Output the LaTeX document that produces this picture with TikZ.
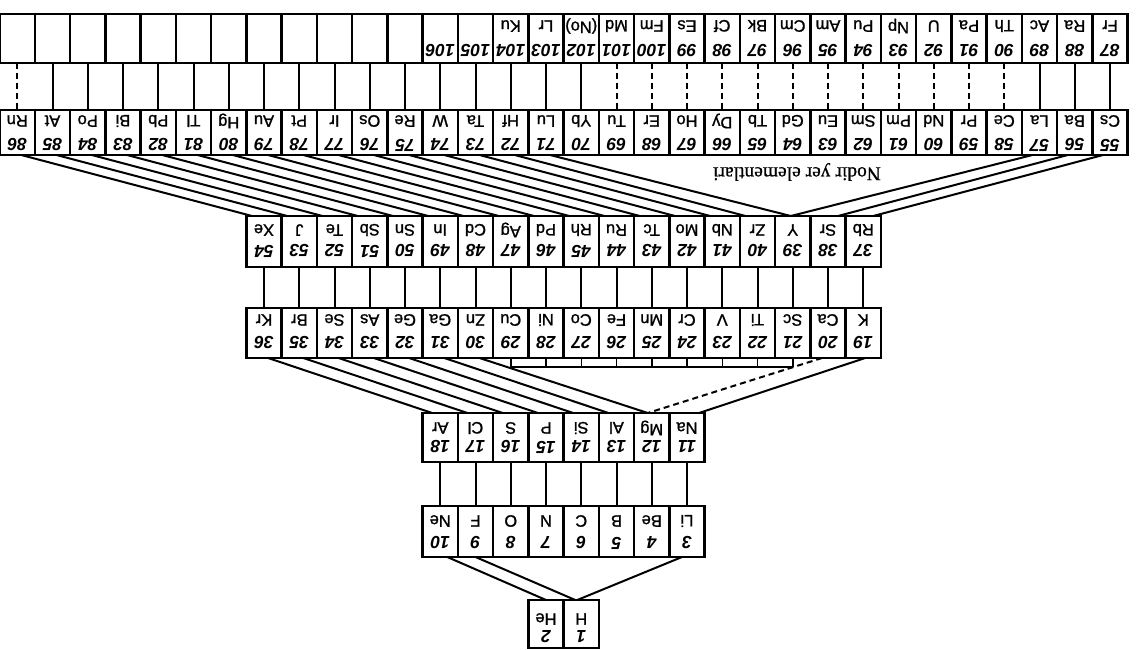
\documentclass[tikz,border=0pt]{standalone}
\usepackage{fontspec}
\setmainfont{Liberation Sans}
\newfontfamily\symfont[FakeBold=1.2]{Liberation Sans}
\newfontfamily\capserif[FakeBold=0.8]{Liberation Serif}
\begin{document}
\begin{tikzpicture}[x=1pt,y=-1pt,
  cell/.style={draw, line width=2.6pt, minimum width=35.25pt, inner sep=0pt, outer sep=0pt},
  sym/.style={rotate=180, inner sep=0pt, font=\symfont\fontsize{16.5}{16.5}\selectfont},
  num/.style={rotate=180, inner sep=0pt, font=\fontsize{17.5}{17.5}\selectfont\bfseries\itshape},
  conn/.style={line width=2pt},
  dconn/.style={line width=2pt, dash pattern=on 6pt off 4pt},
  brk/.style={line width=1.5pt}
]
\useasboundingbox (0,0) rectangle (1137,650);
% ---- period 7 (top in picture)
\foreach \z/\s [count=\k from 0] in {87/Fr,88/Ra,89/Ac,90/Th,91/Pa,92/U,93/Np,94/Pu,95/Am,96/Cm,97/Bk,98/Cf,99/Es,100/Fm,101/Md,102/{(No)},103/Lr,104/Ku,105/{},106/{}} {
  \pgfmathsetmacro\xc{1110-35.25*\k}
  \node[cell, minimum height=49pt] (c\z) at (\xc,38.5) {};
  \node[sym] (s\z) at (\xc,26) {\s};
  \node[num] (n\z) at (\xc,51) {\z};
}
\foreach \k in {20,...,31} {
  \node[cell, minimum height=49pt] (e\k) at ({1110-35.25*\k},38.5) {};
}
% ---- period 6
\foreach \z/\s [count=\k from 0] in {55/Cs,56/Ba,57/La,58/Ce,59/Pr,60/Nd,61/Pm,62/Sm,63/Eu,64/Gd,65/Tb,66/Dy,67/Ho,68/Er,69/Tu,70/Yb,71/Lu,72/Hf,73/Ta,74/W,75/Re,76/Os,77/Ir,78/Pt,79/Au,80/Hg,81/Tl,82/Pb,83/Bi,84/Po,85/At,86/Rn} {
  \pgfmathsetmacro\xc{1110-35.25*\k}
  \node[cell, minimum height=45pt] (c\z) at (\xc,132.5) {};
  \node[sym] (s\z) at (\xc,121) {\s};
  \node[num] (n\z) at (\xc,145) {\z};
}
% ---- period 5
\foreach \z/\s [count=\k from 7] in {37/Rb,38/Sr,39/Y,40/Zr,41/Nb,42/Mo,43/Tc,44/Ru,45/Rh,46/Pd,47/Ag,48/Cd,49/In,50/Sn,51/Sb,52/Te,53/J,54/Xe} {
  \pgfmathsetmacro\xc{1110-35.25*\k}
  \node[cell, minimum height=51pt] (c\z) at (\xc,241.5) {};
  \node[sym] (s\z) at (\xc,230) {\s};
  \node[num] (n\z) at (\xc,251) {\z};
}
% ---- period 4
\foreach \z/\s [count=\k from 7] in {19/K,20/Ca,21/Sc,22/Ti,23/V,24/Cr,25/Mn,26/Fe,27/Co,28/Ni,29/Cu,30/Zn,31/Ga,32/Ge,33/As,34/Se,35/Br,36/Kr} {
  \pgfmathsetmacro\xc{1110-35.25*\k}
  \node[cell, minimum height=50pt] (c\z) at (\xc,333) {};
  \node[sym] (s\z) at (\xc,320) {\s};
  \node[num] (n\z) at (\xc,343) {\z};
}
% ---- period 3
\foreach \z/\s [count=\k from 12] in {11/Na,12/Mg,13/Al,14/Si,15/P,16/S,17/Cl,18/Ar} {
  \pgfmathsetmacro\xc{1110-35.25*\k}
  \node[cell, minimum height=49pt] (c\z) at (\xc,437.5) {};
  \node[sym] (s\z) at (\xc,428) {\s};
  \node[num] (n\z) at (\xc,447) {\z};
}
% ---- period 2
\foreach \z/\s [count=\k from 12] in {3/Li,4/Be,5/B,6/C,7/N,8/O,9/F,10/Ne} {
  \pgfmathsetmacro\xc{1110-35.25*\k}
  \node[cell, minimum height=51pt] (c\z) at (\xc,531.5) {};
  \node[sym] (s\z) at (\xc,521) {\s};
  \node[num] (n\z) at (\xc,543) {\z};
}
% ---- period 1
\foreach \z/\s [count=\k from 15] in {1/H,2/He} {
  \pgfmathsetmacro\xc{1110-35.25*\k}
  \node[cell, minimum height=48pt] (c\z) at (\xc,624) {};
  \node[sym] (s\z) at (\xc,619) {\s};
  \node[num] (n\z) at (\xc,637) {\z};
}
% ---- band 7 -> 6
\foreach \k in {0,1,2,15,16,17,18,19} {
  \pgfmathtruncatemacro\a{87+\k}\pgfmathtruncatemacro\b{55+\k}
  \draw[conn] (c\a.south) -- (c\b.north);
}
\foreach \k in {3,...,14} {
  \pgfmathtruncatemacro\a{87+\k}\pgfmathtruncatemacro\b{55+\k}
  \draw[dconn] (c\a.south) -- (c\b.north);
}
\foreach \k in {20,...,30} {
  \pgfmathtruncatemacro\b{55+\k}
  \draw[conn] (e\k.south) -- (c\b.north);
}
\draw[dconn] (e31.south) -- (c86.north);
% ---- period 6 -> 5
\foreach \z in {72,...,86} {
  \pgfmathtruncatemacro\t{\z-32}
  \draw[conn] ([xshift=4pt]c\z.south) -- ([xshift=-12pt]c\t.north);
}
\draw[conn] ([xshift=4pt]c71.south) -- ([xshift=-2pt]c39.north);
\draw[conn] ([xshift=-7pt]c57.south) -- ([xshift=-2pt]c39.north);
\draw[conn] ([xshift=-7pt]c56.south) -- ([xshift=10pt]c38.north);
\draw[conn] ([xshift=-7pt]c55.south) -- ([xshift=10pt]c37.north);
\node[rotate=180, inner sep=0pt, font=\capserif\fontsize{19.5}{19.5}\selectfont] (rare) at (797,172) {Nodir yer elementlari};
% ---- band 5 -> 4
\foreach \z in {37,...,54} {
  \pgfmathtruncatemacro\t{\z-18}
  \draw[conn] (c\z.south) -- (c\t.north);
}
% ---- period 4 -> 3
\foreach \z in {31,...,36} {
  \pgfmathtruncatemacro\t{\z-18}
  \draw[conn] ([xshift=4pt]c\z.south) -- ([xshift=-8pt]c\t.north);
}
\draw[conn] ([xshift=4pt]c30.south) -- ([xshift=-4pt]c12.north);
\draw[dconn] ([xshift=-6pt]c20.south) -- ([xshift=-4pt]c12.north);
\draw[conn] ([xshift=2pt]c19.south) -- ([xshift=12pt]c11.north);
% bracket under transition metals
\path (c29.south) ++(0,9) coordinate (bL);
\path (c21.south) ++(0,9) coordinate (bR);
\foreach \z in {21,...,29} { \draw[brk] (c\z.south) -- (c\z.south |- bL); }
\draw[brk] (bL) -- (bR);
% ---- band 3 -> 2
\foreach \z in {11,...,18} {
  \pgfmathtruncatemacro\t{\z-8}
  \draw[conn] (c\z.south) -- (c\t.north);
}
% ---- period 2 -> 1
\draw[conn] ([xshift=7pt]c10.south) -- (c2.north);
\draw[conn] (c9.south) -- ([xshift=-6pt]c1.north);
\draw[conn] ([xshift=-5pt]c3.south) -- ([xshift=-4pt]c1.north);
\end{tikzpicture}
\end{document}
